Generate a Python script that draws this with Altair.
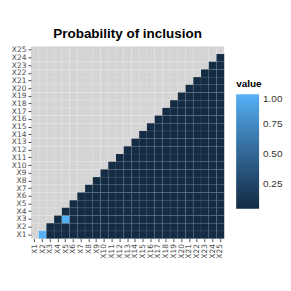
import altair as alt
import pandas as pd

# Category labels (both axes)
variables = ["X1", "X2", "X3", "X4", "X5", "X6", "X7", "X8", "X9", "X10",
             "X11", "X12", "X13", "X14", "X15", "X16", "X17", "X18", "X19", "X20",
             "X21", "X22", "X23", "X24", "X25"]

# Value read for the (nearly uniform) dark cells of the upper triangle
base_prob = 0.04
# Cells that stand out (x, y, value)
high_x = ["X2", "X5"]
high_y = ["X1", "X3"]
high_v = [1.00, 0.98]

legend_values = [0.25, 0.50, 0.75, 1.00]

high = {(x, y): v for x, y, v in zip(high_x, high_y, high_v)}
rows = []
for i, yv in enumerate(variables):
    for j, xv in enumerate(variables):
        if j > i:
            rows.append({"x": xv, "y": yv, "value": high.get((xv, yv), base_prob)})
df = pd.DataFrame(rows)
grid = pd.DataFrame([{"x": xv, "y": yv} for yv in variables for xv in variables])

xenc = alt.X("x:N", sort=variables, title=None,
             scale=alt.Scale(domain=variables, paddingInner=0, paddingOuter=0),
             axis=alt.Axis(labelAngle=270))
yenc = alt.Y("y:N", sort=variables[::-1], title=None,
             scale=alt.Scale(domain=variables[::-1], paddingInner=0, paddingOuter=0))

bg = alt.Chart(grid).mark_rect(fill="#D4D4D4", stroke="white",
                               strokeOpacity=0.15, strokeWidth=0.6).encode(x=xenc, y=yenc)

tiles = alt.Chart(df).mark_rect(stroke="white", strokeOpacity=0.10,
                                strokeWidth=0.6).encode(
    x=xenc, y=yenc,
    color=alt.Color("value:Q",
                    scale=alt.Scale(domain=[0.04, 1.0], range=["#132B43", "#56B1F7"],
                                    interpolate="lab"),
                    legend=alt.Legend(orient="none", legendX=206, legendY=33,
                                      direction="vertical",
                                      gradientLength=115, gradientThickness=23,
                                      gradientStrokeWidth=0,
                                      values=legend_values, format=".2f",
                                      title="value", titleFontSize=10,
                                      titleFontWeight="bold", titleColor="black",
                                      titlePadding=5,
                                      labelFontSize=10, labelColor="#333333",
                                      labelOffset=4, labelFont="Liberation Sans",
                                      titleFont="Liberation Sans"))
)

chart = alt.layer(bg, tiles).properties(
    width=194, height=193,
    title=alt.Title("Probability of inclusion", fontSize=13.5, font="Liberation Sans",
                    fontWeight="bold", anchor="middle", offset=5, color="black"),
    padding={"left": 3, "top": 18, "right": 0, "bottom": 0},
).configure_view(stroke=None).configure_axis(
    domain=False, grid=False, tickColor="#4D4D4D", tickSize=3, labelPadding=2,
    labelColor="#4D4D4D", labelFontSize=7.5, labelFont="DejaVu Sans"
)

chart.save("out.html", embed_options={"renderer": "svg", "actions": False})
